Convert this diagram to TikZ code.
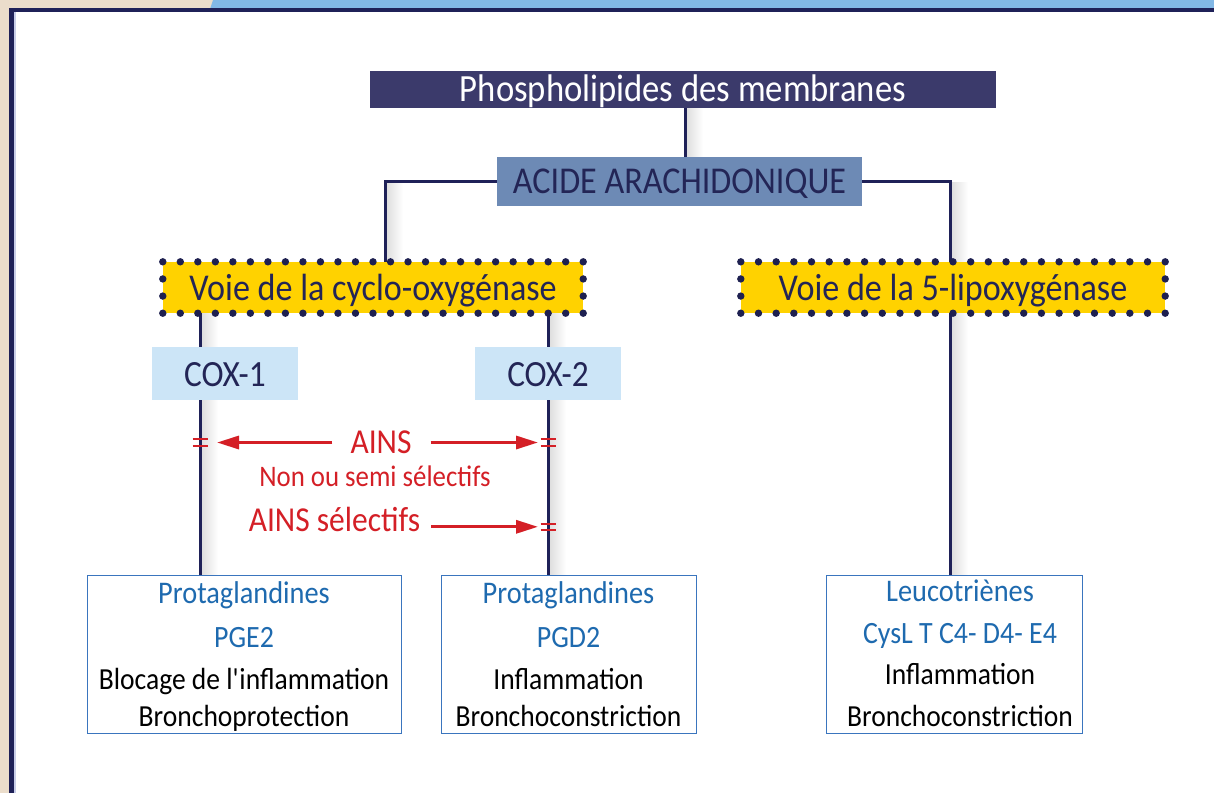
\documentclass[tikz,border=0pt]{standalone}
\usepackage{fontspec}
\setmainfont[FakeStretch=0.9]{Carlito}
\usetikzlibrary{arrows.meta,calc}
\definecolor{framec}{HTML}{1F2158}
\definecolor{beige}{HTML}{EBDDCB}
\definecolor{topblue}{HTML}{82B8E6}
\definecolor{phosc}{HTML}{3B3A6B}
\definecolor{acidec}{HTML}{6D8AB5}
\definecolor{navytext}{HTML}{232556}
\definecolor{yel}{HTML}{FFD200}
\definecolor{dotc}{HTML}{1E2050}
\definecolor{coxfill}{HTML}{CCE5F7}
\definecolor{bluetext}{HTML}{1E6AAF}
\definecolor{boxline}{HTML}{3A75BE}
\definecolor{ainsc}{HTML}{D41F26}
\definecolor{lav}{HTML}{C8CDE8}
\newcommand\fs[1]{\fontsize{#1}{#1}\selectfont}
\newcommand\dotborder[1]{%
  \foreach \i in {0,...,24}{%
    \fill[dotc] ($(#1.north west)!\i/24!(#1.north east)$) circle (3.7pt);
    \fill[dotc] ($(#1.south west)!\i/24!(#1.south east)$) circle (3.7pt);}
  \foreach \i in {1,2}{%
    \fill[dotc] ($(#1.north west)!\i/3!(#1.south west)$) circle (3.7pt);
    \fill[dotc] ($(#1.north east)!\i/3!(#1.south east)$) circle (3.7pt);}}
\newcommand\eqmark[1]{%
  \draw[ainsc, line width=2.2pt] ($(#1)+(-7.5,-3.2)$) -- ($(#1)+(7.5,-3.2)$);
  \draw[ainsc, line width=2.2pt] ($(#1)+(-7.5,3.2)$) -- ($(#1)+(7.5,3.2)$);}
\begin{document}
\begin{tikzpicture}[x=1pt,y=-1pt,
  conn/.style={draw=framec, line width=3pt},
  shadowr/.style={left color=black!13, right color=white},
  phosbox/.style={fill=phosc, text=white, inner sep=0pt, minimum width=626pt,
    minimum height=37pt, text height=24.8pt, text depth=0pt, font=\fs{38.5}},
  acidebox/.style={fill=acidec, text=navytext, inner sep=0pt, minimum width=365pt,
    minimum height=49pt, text height=23.6pt, text depth=0pt, font=\fs{37.9}},
  voiebox/.style={fill=yel, text=navytext, inner sep=0pt,
    minimum height=51pt, text height=25pt, text depth=0pt, font=\fs{37.9}},
  coxbox/.style={fill=coxfill, text=navytext, inner sep=0pt, minimum width=146pt,
    minimum height=53pt, text height=26.4pt, text depth=0pt, font=\fs{37}},
  resbox/.style={draw=boxline, line width=1pt, fill=white, inner sep=0pt, minimum height=158pt},
  rtitle/.style={anchor=base, inner sep=0pt, text=bluetext, font=\fs{31.5}},
  rsub/.style={anchor=base, inner sep=0pt, text=bluetext, font=\fs{31}},
  rbody/.style={anchor=base, inner sep=0pt, text=black, font=\fs{30.6}},
  redtxt/.style={anchor=base, inner sep=0pt, text=ainsc},
  redarr/.style={draw=ainsc, line width=3.2pt, -{Triangle[length=22pt,width=13pt]}}
]
\useasboundingbox (0,0) rectangle (1214,793);
% background and frame
\fill[beige] (0,0) rectangle (1214,793);
\fill[topblue] (213,0) -- (1214,0) -- (1214,9) -- (210,9) -- cycle;
\fill[white] (14,12) rectangle (1214,793);
\fill[framec] (9,8) rectangle (1214,12.3);
\fill[framec] (9,8) rectangle (14,793);
\fill[lav] (14,12.3) rectangle (15.5,793);

% shadows beside vertical connectors
\shade[shadowr] (686.5,107) rectangle (703,157);
\shade[shadowr] (386.5,182) rectangle (403,262);
\shade[shadowr] (951.5,182) rectangle (968,262);
\shade[shadowr] (201.5,313) rectangle (218,575);
\shade[shadowr] (549.5,313) rectangle (566,575);
\shade[shadowr] (951.5,313) rectangle (968,575);

% nodes
\node[phosbox] (phos) at (683,89.3) {Phospholipides des membranes};
\node[acidebox] (acide) at (679.5,181.5) {ACIDE ARACHIDONIQUE};
\node[voiebox, minimum width=420pt] (voie1) at (373,287.5) {Voie de la cyclo-oxygénase};
\node[voiebox, minimum width=424pt] (voie2) at (953,287.5) {Voie de la 5-lipoxygénase};
\node[coxbox] (cox1) at (225,373.5) {COX-1};
\node[coxbox] (cox2) at (548,373.5) {COX-2};
\node[resbox, minimum width=314pt] (res1) at (244,654) {};
\node[resbox, minimum width=255pt] (res2) at (568.5,654) {};
\node[resbox, minimum width=256pt] (res3) at (954,654) {};

% line positions
\coordinate (l1) at (200,0);
\coordinate (l2) at (548,0);
\coordinate (l3) at (950,0);
\coordinate (l0) at (385,0);
\coordinate (lp) at (685,0);

% connectors
\draw[conn] (phos.south -| lp) -- (acide.north -| lp);
\draw[conn] (acide.west) -| (voie1.north -| l0);
\draw[conn] (acide.east) -| (voie2.north -| l3);
\draw[conn] (voie1.south -| l1) -- (cox1.north -| l1);
\draw[conn] (cox1.south -| l1) -- (res1.north -| l1);
\draw[conn] (voie1.south -| l2) -- (cox2.north -| l2);
\draw[conn] (cox2.south -| l2) -- (res2.north -| l2);
\draw[conn] (voie2.south -| l3) -- (res3.north -| l3);
\dotborder{voie1}
\dotborder{voie2}

% result texts
\node[rtitle] (t1a) at (244,603.5) {Protaglandines};
\node[rsub]   (t1b) at (244,647.3) {PGE2};
\node[rbody]  (t1c) at (244,689) {Blocage de l\textquotesingle inflammation};
\node[rbody]  (t1d) at (244,726) {Bronchoprotection};
\node[rtitle] (t2a) at (568.5,603.5) {Protaglandines};
\node[rsub]   (t2b) at (568.5,647.3) {PGD2};
\node[rbody]  (t2c) at (568.5,689) {Inflammation};
\node[rbody]  (t2d) at (568.5,726) {Bronchoconstriction};
\node[rtitle] (t3a) at (960,601.7) {Leucotriènes};
\node[rsub]   (t3b) at (960,643.3) {CysL T C4- D4- E4};
\node[rbody]  (t3c) at (960,684.5) {Inflammation};
\node[rbody]  (t3d) at (960,726.5) {Bronchoconstriction};

% AINS
\node[redtxt, font=\fs{35}] (ains1) at (381,453.3) {AINS};
\node[redtxt, font=\fs{29.8}] (nonsel) at (375,486.7) {Non ou semi sélectifs};
\node[redtxt, font=\fs{35}] (ains2) at (334.5,531) {AINS sélectifs};
\coordinate (m1) at (200,442.5);
\coordinate (m2) at (548,442.5);
\coordinate (m3) at (548,526.8);
\draw[redarr] ($(ains1.west |- m1)+(-18,0)$) -- ($(m1)+(17,0)$);
\draw[redarr] ($(ains1.east |- m2)+(19,0)$) -- ($(m2)+(-10,0)$);
\draw[redarr] ($(ains2.east |- m3)+(11,0)$) -- ($(m3)+(-10,0)$);
\eqmark{m1}
\eqmark{m2}
\eqmark{m3}
\end{tikzpicture}
\end{document}
